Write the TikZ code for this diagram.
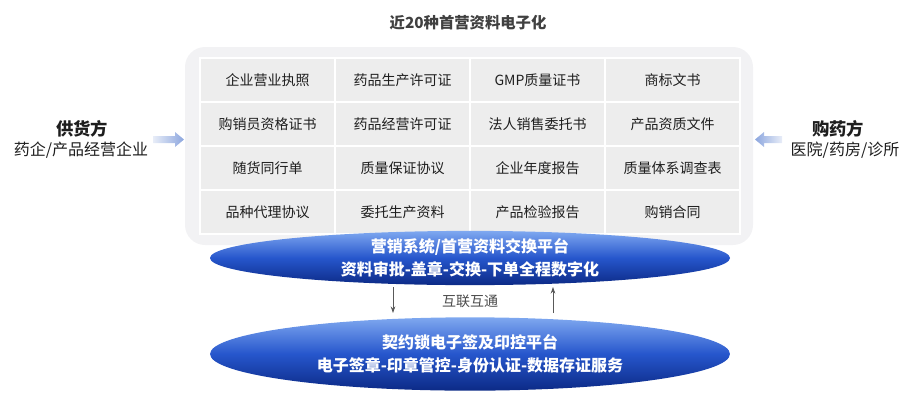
\documentclass[tikz,border=0pt]{standalone}
\usepackage{fontspec}
\setmainfont{Noto Sans CJK SC}
\usetikzlibrary{arrows.meta, shapes.geometric}

\definecolor{panelgray}{HTML}{F2F2F4}
\definecolor{cellgray}{HTML}{EDEDED}
\definecolor{textdark}{HTML}{1E1E1E}
\definecolor{platlight}{HTML}{7FA8F0}
\definecolor{platmid}{HTML}{2656CC}
\definecolor{platdark}{HTML}{0C2A86}
\definecolor{fatblue}{HTML}{8CA6DE}
\definecolor{fatpale}{HTML}{E8EDF8}

\tikzset{
  doccell/.style={fill=cellgray, draw=white, line width=1.2pt, minimum width=101.25pt,
    minimum height=33pt, inner sep=0pt, text=textdark, font=\fontsize{10.5}{12}\selectfont},
  platform/.style={ellipse, inner sep=0pt, text=white, align=center,
    top color=platlight, bottom color=platdark, middle color=platmid,
    font=\bfseries\fontsize{12}{17}\selectfont},
  party/.style={text=textdark, font=\bfseries\fontsize{13}{15}\selectfont},
  partysub/.style={text=textdark, font=\fontsize{12}{14}\selectfont},
}

\begin{document}
\begin{tikzpicture}[x=0.75pt, y=-0.75pt]
\useasboundingbox (0,0) rectangle (924,400);

\node (title) at (468,23) [text=textdark!85, font=\bfseries\fontsize{11.5}{13}\selectfont] {近20种首营资料电子化};

% panel with the document grid
\fill[panelgray, rounded corners=15pt] (185,47) rectangle (753,245);
\foreach \row [count=\r from 0] in {{企业营业执照,药品生产许可证,GMP质量证书,商标文书},
    {购销员资格证书,药品经营许可证,法人销售委托书,产品资质文件},
    {随货同行单,质量保证协议,企业年度报告,质量体系调查表},
    {品种代理协议,委托生产资料,产品检验报告,购销合同}}
  \foreach \txt [count=\c from 0] in \row
    \node (cell-\r-\c) [doccell] at ({267.5+135*\c},{80+44*\r}) {\txt};

% platforms
\node (xchg) [platform, minimum width=390pt, minimum height=31.5pt] at (470,258)
  {营销系统/首营资料交换平台\\资料审批-盖章-交换-下单全程数字化};
\node (seal) [platform, minimum width=390pt, minimum height=55pt] at (470,354)
  {契约锁电子签及印控平台\\电子签章-印章管控-身份认证-数据存证服务};

\coordinate (downtop) at (393,287);
\coordinate (downbot) at (393,313);
\coordinate (uptop) at (553,287);
\coordinate (upbot) at (553,313);
\draw[-{Stealth[length=5pt,width=3.5pt]}, gray!70!black, line width=0.6pt] (downtop) -- (downbot);
\draw[-{Stealth[length=5pt,width=3.5pt]}, gray!70!black, line width=0.6pt] (upbot) -- (uptop);
\node (link) at (470,301) [text=textdark!80, font=\fontsize{10.5}{12}\selectfont] {互联互通};

% supplier and buyer
\node (supplier) at (82,129) [party] {供货方};
\node (suppliersub) at (81,150) [partysub] {药企/产品经营企业};
\node (buyer) at (838,129) [party] {购药方};
\node (buyersub) at (845,150) [partysub] {医院/药房/诊所};

\shade[left color=fatpale, right color=fatblue]
  (153,136) -- (175,136) -- (175,132) -- (184,139.5) -- (175,147) -- (175,143) -- (153,143) -- cycle;
\shade[left color=fatblue, right color=fatpale]
  (782,136) -- (764,136) -- (764,132) -- (755,139.5) -- (764,147) -- (764,143) -- (782,143) -- cycle;
\end{tikzpicture}
\end{document}
